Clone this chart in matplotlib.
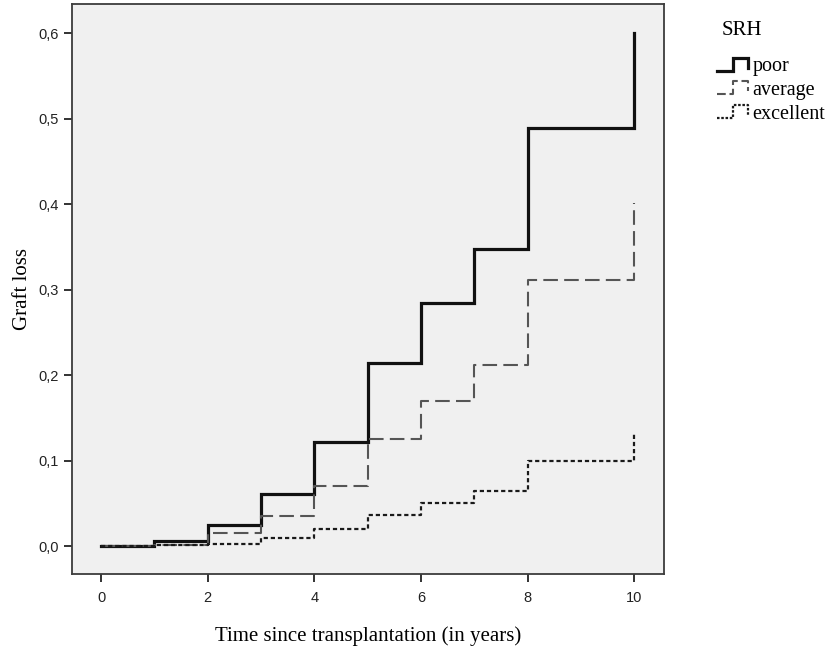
import matplotlib
matplotlib.use("Agg")
import matplotlib.pyplot as plt
from matplotlib.lines import Line2D
from matplotlib.legend_handler import HandlerBase
from matplotlib.ticker import FuncFormatter, MultipleLocator

# ---- data ----
years = [0, 1, 2, 3, 4, 5, 6, 7, 8, 10]
poor = [0.000, 0.006, 0.025, 0.061, 0.122, 0.214, 0.284, 0.348, 0.489, 0.600]
average = [0.000, 0.002, 0.016, 0.035, 0.070, 0.125, 0.170, 0.212, 0.312, 0.401]
excellent = [0.000, 0.001, 0.003, 0.010, 0.020, 0.037, 0.051, 0.065, 0.100, 0.133]
group_labels = ["poor", "average", "excellent"]
legend_title = "SRH"
x_label = "Time since transplantation (in years)"
y_label = "Graft loss"

styles = {
    "poor": dict(color="#111111", lw=2.3, linestyle="-"),
    "average": dict(color="#555555", lw=1.5, dashes=(7, 3)),
    "excellent": dict(color="#1a1a1a", lw=1.6, dashes=(1.9, 1.3)),
}

fig = plt.figure(figsize=(8.33, 6.5), dpi=100)
ax = fig.add_axes([71.7 / 833, 1 - 574.3 / 650, (664 - 71.7) / 833, (574.3 - 4) / 650])
ax.set_facecolor("#f0f0f0")

handles = []
for name, vals in zip(group_labels, [poor, average, excellent]):
    st = dict(styles[name])
    line, = ax.step(years, vals, where="post", label=name, solid_joinstyle="miter", **st)
    handles.append(line)

ax.set_xlim(-0.55, 10.56)
ax.set_ylim(-0.0328, 0.6343)
ax.xaxis.set_major_locator(MultipleLocator(2))
ax.yaxis.set_major_locator(MultipleLocator(0.1))
ax.yaxis.set_major_formatter(FuncFormatter(lambda v, p: f"{v:.1f}".replace(".", ",")))

for sp in ax.spines.values():
    sp.set_color("#3c3c3c")
    sp.set_linewidth(1.3)
ax.tick_params(axis="both", direction="out", length=6, width=1.3, color="#222222",
               labelsize=10.5, labelcolor="#222222")
ax.tick_params(axis="x", pad=6)
ax.tick_params(axis="y", pad=3)
for lab in ax.get_xticklabels() + ax.get_yticklabels():
    lab.set_fontfamily("Liberation Sans")

ax.set_xlabel(x_label, fontfamily="Liberation Serif", fontsize=15, labelpad=15)
ax.set_ylabel(y_label, fontfamily="Liberation Serif", fontsize=15, labelpad=5)


class StepHandler(HandlerBase):
    def create_artists(self, legend, orig_handle, xdescent, ydescent, width, height,
                       fontsize, trans):
        xs = [0.0, 0.45, 0.45, 0.9, 0.9]
        ys = [0.1, 0.1, 0.95, 0.95, 0.3]
        x = [-xdescent + f * width for f in xs]
        y = [-ydescent + f * height for f in ys]
        ln = Line2D(x, y, transform=trans, color=orig_handle.get_color(),
                    lw=orig_handle.get_linewidth(), solid_joinstyle="miter")
        ls = orig_handle.get_linestyle()
        if ls not in ("-", "solid"):
            off, seq = orig_handle._unscaled_dash_pattern
            ln.set_dashes([s * 0.6 for s in seq])
        return [ln]


leg = fig.legend(handles=handles, labels=group_labels, loc="upper left",
                 bbox_to_anchor=(703 / 833, 1 - 7 / 650), frameon=False,
                 title=legend_title,
                 prop={"family": "Liberation Serif", "size": 14.5},
                 title_fontproperties={"family": "Liberation Serif", "size": 15},
                 handlelength=1.7, handleheight=0.8, handletextpad=0.05,
                 labelspacing=0.2, borderpad=0.2,
                 handler_map={Line2D: StepHandler()})
leg._legend_box.align = "left"
leg._legend_box.sep = 12
leg.get_title().set_position((5, 0))

fig.savefig("out.png", dpi=100)
